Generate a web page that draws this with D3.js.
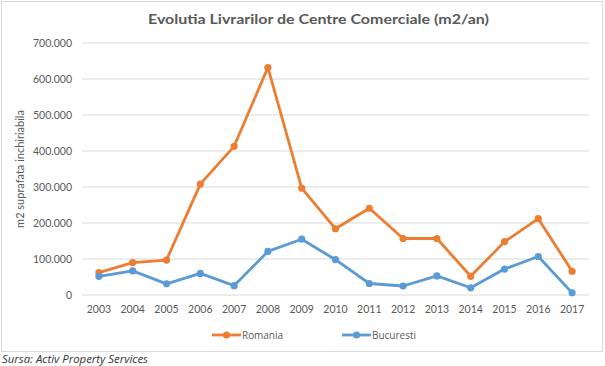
<!DOCTYPE html>
<html><head><meta charset="utf-8">
<script src="https://cdn.jsdelivr.net/npm/d3@7"></script>
<style>body{margin:0;background:#fff;font-family:"Lato","Open Sans",sans-serif;}</style>
</head><body><svg id="c" width="605" height="366"></svg>
<script>
const years = ["2003","2004","2005","2006","2007","2008","2009","2010","2011","2012","2013","2014","2015","2016","2017"];
const romania = [62000,90000,97000,308000,413000,632000,297000,184000,241000,157000,157000,52000,148000,212000,66000];
const bucuresti = [52000,67000,31000,60000,26000,121000,155000,98000,32000,25000,53000,20000,72000,107000,6000];
const yTicks = [0,100000,200000,300000,400000,500000,600000,700000];
const seriesNames = ["Romania","Bucuresti"];
const colors = ["#ED7D31","#5B9BD5"];

const svg = d3.select("#c");
svg.append("rect").attr("x",1.5).attr("y",1.5).attr("width",601).attr("height",350)
  .attr("fill","#fff").attr("stroke","#d9d9d9");

const x = d3.scaleBand().domain(years).range([82,589]);
const cx = d => x(d) + x.bandwidth()/2;
const y = d3.scaleLinear().domain([0,700000]).range([295,43]);
const fmt = v => v===0 ? "0" : d3.format(",")(v).replace(/,/g,".");

svg.append("g").selectAll("line").data(yTicks).join("line")
  .attr("x1",82).attr("x2",589).attr("y1",d=>y(d)).attr("y2",d=>y(d))
  .attr("stroke","#d9d9d9").attr("stroke-width",1);

const ya = svg.append("g").attr("transform","translate(82,0)")
  .call(d3.axisLeft(y).tickValues(yTicks).tickFormat(fmt).tickSize(0).tickPadding(10));
ya.select(".domain").remove();
ya.selectAll("text").attr("fill","#595959").style("font-size","10.5px").style("font-family","Lato, sans-serif");

const xa = svg.append("g").attr("transform","translate(0,295)")
  .call(d3.axisBottom(x).tickSize(0).tickPadding(11));
xa.select(".domain").remove();
xa.selectAll("text").attr("fill","#595959").style("font-size","10.5px").style("font-family","Lato, sans-serif");

svg.append("text").attr("x",148).attr("y",24)
  .attr("fill","#595959").style("font-size","14px").style("font-weight","bold")
  .attr("textLength",341).attr("lengthAdjust","spacingAndGlyphs")
  .text("Evolutia Livrarilor de Centre Comerciale (m2/an)");

svg.append("text").attr("transform","translate(24,169) rotate(-90)").attr("text-anchor","middle")
  .attr("fill","#595959").style("font-size","11px").text("m2 suprafata inchiriabila");

const line = d3.line().x((d,i)=>cx(years[i])).y(d=>y(d));
[romania,bucuresti].forEach((s,k)=>{
  svg.append("path").datum(s).attr("d",line).attr("fill","none")
    .attr("stroke",colors[k]).attr("stroke-width",2.8).attr("stroke-linejoin","round");
  svg.append("g").selectAll("circle").data(s).join("circle")
    .attr("cx",(d,i)=>cx(years[i])).attr("cy",d=>y(d)).attr("r",3.6).attr("fill",colors[k]);
});

const lx = [212,342];
const lw = [41,44];
seriesNames.forEach((n,k)=>{
  const g = svg.append("g");
  g.append("line").attr("x1",lx[k]).attr("x2",lx[k]+29).attr("y1",335).attr("y2",335)
    .attr("stroke",colors[k]).attr("stroke-width",2.8);
  g.append("circle").attr("cx",lx[k]+14.5).attr("cy",335).attr("r",3.6).attr("fill",colors[k]);
  g.append("text").attr("x",lx[k]+30).attr("y",339).attr("fill","#595959")
    .style("font-size","11px").style("font-family","'Open Sans', sans-serif")
    .attr("textLength",lw[k]).attr("lengthAdjust","spacingAndGlyphs").text(n);
});

svg.append("text").attr("x",2).attr("y",363).attr("fill","#333")
  .style("font-size","11px").style("font-style","italic").style("font-family","'Open Sans', sans-serif")
  .attr("textLength",146).attr("lengthAdjust","spacingAndGlyphs")
  .text("Sursa: Activ Property Services");
</script></body></html>
